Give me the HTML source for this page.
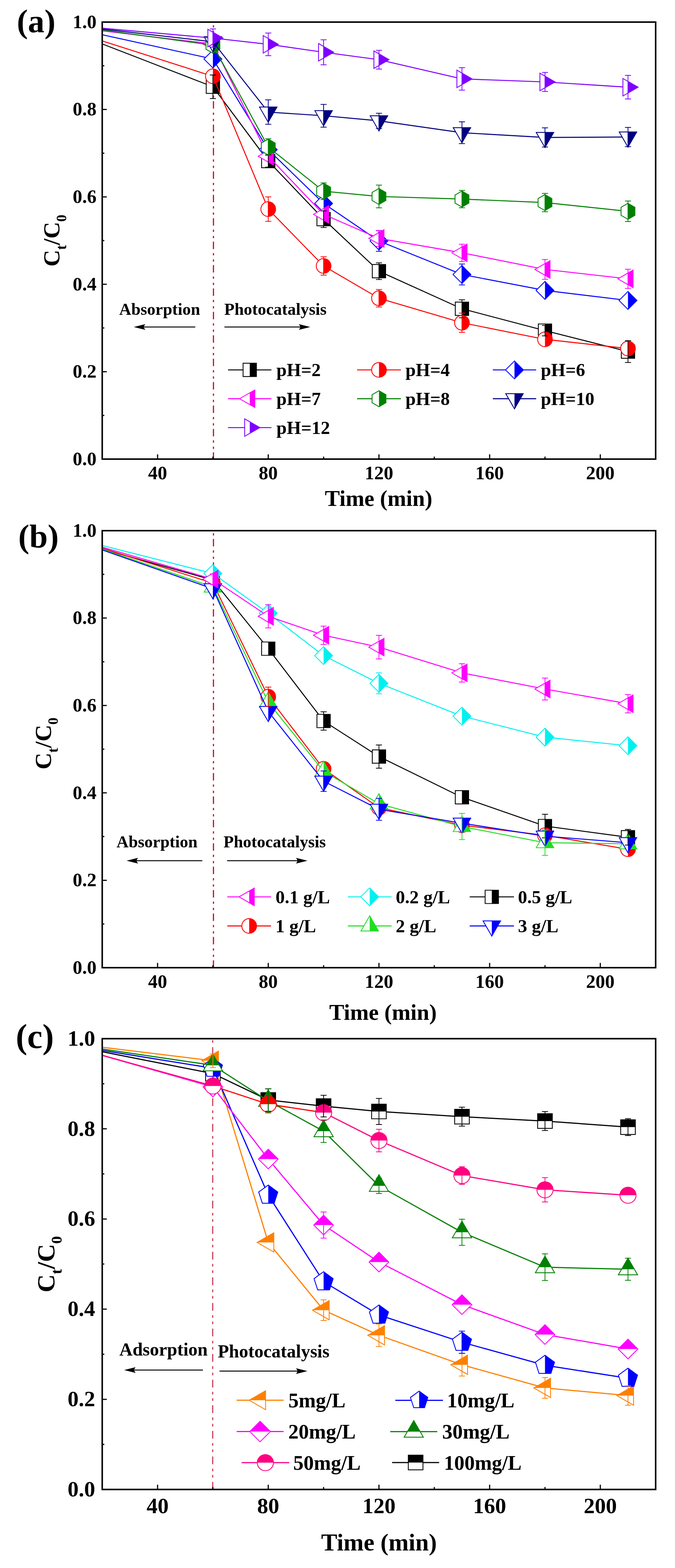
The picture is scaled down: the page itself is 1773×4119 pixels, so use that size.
<!DOCTYPE html><html><head><meta charset="utf-8"><title>Ct/C0 vs Time</title><style>html,body{margin:0;padding:0;background:#fff;}svg{display:block;}</style></head><body>
<svg width="1773" height="4119" viewBox="0 0 1773 4119" font-family="'Liberation Serif', 'Times New Roman', serif" font-weight="bold">
<rect width="1773" height="4119" fill="#fff"/>
<line x1="560.7" y1="58" x2="560.7" y2="1206" stroke="#d8001e" stroke-width="3" stroke-dasharray="19.5 10.5 6 10.5 6 9" stroke-dashoffset="38.3"/>
<polyline points="268.5,115.4 559.2,227.9 704.6,423.1 850,575.7 995.4,712.4 1213.4,811.1 1431.5,868.5 1649.5,923.6" fill="none" stroke="#000000" stroke-width="2.6" stroke-linejoin="round"/>
<polygon points="541.7,210.4 576.7,210.4 576.7,245.4 541.7,245.4" fill="#fff"/>
<polygon points="559.2,210.4 576.7,210.4 576.7,245.4 559.2,245.4" fill="#000000"/>
<polygon points="541.7,210.4 576.7,210.4 576.7,245.4 541.7,245.4" fill="none" stroke="#000000" stroke-width="2.2" stroke-linejoin="miter"/>
<polygon points="687.1,405.6 722.1,405.6 722.1,440.6 687.1,440.6" fill="#fff"/>
<polygon points="704.6,405.6 722.1,405.6 722.1,440.6 704.6,440.6" fill="#000000"/>
<polygon points="687.1,405.6 722.1,405.6 722.1,440.6 687.1,440.6" fill="none" stroke="#000000" stroke-width="2.2" stroke-linejoin="miter"/>
<polygon points="832.5,558.2 867.5,558.2 867.5,593.2 832.5,593.2" fill="#fff"/>
<polygon points="850,558.2 867.5,558.2 867.5,593.2 850,593.2" fill="#000000"/>
<polygon points="832.5,558.2 867.5,558.2 867.5,593.2 832.5,593.2" fill="none" stroke="#000000" stroke-width="2.2" stroke-linejoin="miter"/>
<polygon points="977.9,694.9 1012.9,694.9 1012.9,729.9 977.9,729.9" fill="#fff"/>
<polygon points="995.4,694.9 1012.9,694.9 1012.9,729.9 995.4,729.9" fill="#000000"/>
<polygon points="977.9,694.9 1012.9,694.9 1012.9,729.9 977.9,729.9" fill="none" stroke="#000000" stroke-width="2.2" stroke-linejoin="miter"/>
<polygon points="1195.9,793.6 1230.9,793.6 1230.9,828.6 1195.9,828.6" fill="#fff"/>
<polygon points="1213.4,793.6 1230.9,793.6 1230.9,828.6 1213.4,828.6" fill="#000000"/>
<polygon points="1195.9,793.6 1230.9,793.6 1230.9,828.6 1195.9,828.6" fill="none" stroke="#000000" stroke-width="2.2" stroke-linejoin="miter"/>
<polygon points="1414,851 1449,851 1449,886 1414,886" fill="#fff"/>
<polygon points="1431.5,851 1449,851 1449,886 1431.5,886" fill="#000000"/>
<polygon points="1414,851 1449,851 1449,886 1414,886" fill="none" stroke="#000000" stroke-width="2.2" stroke-linejoin="miter"/>
<polygon points="1632,906.1 1667,906.1 1667,941.1 1632,941.1" fill="#fff"/>
<polygon points="1649.5,906.1 1667,906.1 1667,941.1 1649.5,941.1" fill="#000000"/>
<polygon points="1632,906.1 1667,906.1 1667,941.1 1632,941.1" fill="none" stroke="#000000" stroke-width="2.2" stroke-linejoin="miter"/>
<polyline points="268.5,107.4 559.2,200.4 704.6,549.3 850,698.6 995.4,783.5 1213.4,847.8 1431.5,891.4 1649.5,915.6" fill="none" stroke="#ff0000" stroke-width="2.6" stroke-linejoin="round"/>
<circle cx="559.2" cy="200.4" r="19.3" fill="#fff"/>
<path d="M559.2,181.1 A19.3,19.3 0 0 1 559.2,219.7 Z" fill="#ff0000"/>
<circle cx="559.2" cy="200.4" r="19.3" fill="none" stroke="#ff0000" stroke-width="2.2"/>
<circle cx="704.6" cy="549.3" r="19.3" fill="#fff"/>
<path d="M704.6,530 A19.3,19.3 0 0 1 704.6,568.6 Z" fill="#ff0000"/>
<circle cx="704.6" cy="549.3" r="19.3" fill="none" stroke="#ff0000" stroke-width="2.2"/>
<circle cx="850" cy="698.6" r="19.3" fill="#fff"/>
<path d="M850,679.3 A19.3,19.3 0 0 1 850,717.9 Z" fill="#ff0000"/>
<circle cx="850" cy="698.6" r="19.3" fill="none" stroke="#ff0000" stroke-width="2.2"/>
<circle cx="995.4" cy="783.5" r="19.3" fill="#fff"/>
<path d="M995.4,764.2 A19.3,19.3 0 0 1 995.4,802.8 Z" fill="#ff0000"/>
<circle cx="995.4" cy="783.5" r="19.3" fill="none" stroke="#ff0000" stroke-width="2.2"/>
<circle cx="1213.4" cy="847.8" r="19.3" fill="#fff"/>
<path d="M1213.4,828.5 A19.3,19.3 0 0 1 1213.4,867.1 Z" fill="#ff0000"/>
<circle cx="1213.4" cy="847.8" r="19.3" fill="none" stroke="#ff0000" stroke-width="2.2"/>
<circle cx="1431.5" cy="891.4" r="19.3" fill="#fff"/>
<path d="M1431.5,872.1 A19.3,19.3 0 0 1 1431.5,910.7 Z" fill="#ff0000"/>
<circle cx="1431.5" cy="891.4" r="19.3" fill="none" stroke="#ff0000" stroke-width="2.2"/>
<circle cx="1649.5" cy="915.6" r="19.3" fill="#fff"/>
<path d="M1649.5,896.3 A19.3,19.3 0 0 1 1649.5,934.9 Z" fill="#ff0000"/>
<circle cx="1649.5" cy="915.6" r="19.3" fill="none" stroke="#ff0000" stroke-width="2.2"/>
<polyline points="268.5,91.3 559.2,155 704.6,393.2 850,534.4 995.4,633.1 1213.4,721 1431.5,762.9 1649.5,789.3" fill="none" stroke="#0000ff" stroke-width="2.6" stroke-linejoin="round"/>
<polygon points="559.2,131.5 582.7,155 559.2,178.5 535.7,155" fill="#fff"/>
<polygon points="559.2,131.5 559.2,131.5 582.7,155 559.2,178.5 559.2,178.5" fill="#0000ff"/>
<polygon points="559.2,131.5 582.7,155 559.2,178.5 535.7,155" fill="none" stroke="#0000ff" stroke-width="2.2" stroke-linejoin="miter"/>
<polygon points="704.6,369.7 728.1,393.2 704.6,416.7 681.1,393.2" fill="#fff"/>
<polygon points="704.6,369.7 704.6,369.7 728.1,393.2 704.6,416.7 704.6,416.7" fill="#0000ff"/>
<polygon points="704.6,369.7 728.1,393.2 704.6,416.7 681.1,393.2" fill="none" stroke="#0000ff" stroke-width="2.2" stroke-linejoin="miter"/>
<polygon points="850,510.9 873.5,534.4 850,557.9 826.5,534.4" fill="#fff"/>
<polygon points="850,510.9 850,510.9 873.5,534.4 850,557.9 850,557.9" fill="#0000ff"/>
<polygon points="850,510.9 873.5,534.4 850,557.9 826.5,534.4" fill="none" stroke="#0000ff" stroke-width="2.2" stroke-linejoin="miter"/>
<polygon points="995.4,609.6 1018.9,633.1 995.4,656.6 971.9,633.1" fill="#fff"/>
<polygon points="995.4,609.6 995.4,609.6 1018.9,633.1 995.4,656.6 995.4,656.6" fill="#0000ff"/>
<polygon points="995.4,609.6 1018.9,633.1 995.4,656.6 971.9,633.1" fill="none" stroke="#0000ff" stroke-width="2.2" stroke-linejoin="miter"/>
<polygon points="1213.4,697.5 1236.9,721 1213.4,744.5 1189.9,721" fill="#fff"/>
<polygon points="1213.4,697.5 1213.4,697.5 1236.9,721 1213.4,744.5 1213.4,744.5" fill="#0000ff"/>
<polygon points="1213.4,697.5 1236.9,721 1213.4,744.5 1189.9,721" fill="none" stroke="#0000ff" stroke-width="2.2" stroke-linejoin="miter"/>
<polygon points="1431.5,739.4 1455,762.9 1431.5,786.4 1408,762.9" fill="#fff"/>
<polygon points="1431.5,739.4 1431.5,739.4 1455,762.9 1431.5,786.4 1431.5,786.4" fill="#0000ff"/>
<polygon points="1431.5,739.4 1455,762.9 1431.5,786.4 1408,762.9" fill="none" stroke="#0000ff" stroke-width="2.2" stroke-linejoin="miter"/>
<polygon points="1649.5,765.8 1673,789.3 1649.5,812.8 1626,789.3" fill="#fff"/>
<polygon points="1649.5,765.8 1649.5,765.8 1673,789.3 1649.5,812.8 1649.5,812.8" fill="#0000ff"/>
<polygon points="1649.5,765.8 1673,789.3 1649.5,812.8 1626,789.3" fill="none" stroke="#0000ff" stroke-width="2.2" stroke-linejoin="miter"/>
<polyline points="268.5,81 559.2,115.4 704.6,410.4 850,563.1 995.4,626.3 1213.4,664.1 1431.5,707.8 1649.5,732.5" fill="none" stroke="#ff00ff" stroke-width="2.6" stroke-linejoin="round"/>
<polygon points="532.7,115.4 572.5,92.4 572.5,138.4" fill="#fff"/>
<polygon points="559.2,130.7 559.2,100.1 572.5,92.4 572.5,138.4" fill="#ff00ff"/>
<polygon points="532.7,115.4 572.5,92.4 572.5,138.4" fill="none" stroke="#ff00ff" stroke-width="2.2" stroke-linejoin="miter"/>
<polygon points="678.1,410.4 717.9,387.4 717.9,433.4" fill="#fff"/>
<polygon points="704.6,425.8 704.6,395.1 717.9,387.4 717.9,433.4" fill="#ff00ff"/>
<polygon points="678.1,410.4 717.9,387.4 717.9,433.4" fill="none" stroke="#ff00ff" stroke-width="2.2" stroke-linejoin="miter"/>
<polygon points="823.4,563.1 863.3,540.1 863.3,586.1" fill="#fff"/>
<polygon points="850,578.5 850,547.8 863.3,540.1 863.3,586.1" fill="#ff00ff"/>
<polygon points="823.4,563.1 863.3,540.1 863.3,586.1" fill="none" stroke="#ff00ff" stroke-width="2.2" stroke-linejoin="miter"/>
<polygon points="968.8,626.3 1008.6,603.3 1008.6,649.3" fill="#fff"/>
<polygon points="995.4,641.6 995.4,610.9 1008.6,603.3 1008.6,649.3" fill="#ff00ff"/>
<polygon points="968.8,626.3 1008.6,603.3 1008.6,649.3" fill="none" stroke="#ff00ff" stroke-width="2.2" stroke-linejoin="miter"/>
<polygon points="1186.8,664.1 1226.7,641.1 1226.7,687.1" fill="#fff"/>
<polygon points="1213.4,679.5 1213.4,648.8 1226.7,641.1 1226.7,687.1" fill="#ff00ff"/>
<polygon points="1186.8,664.1 1226.7,641.1 1226.7,687.1" fill="none" stroke="#ff00ff" stroke-width="2.2" stroke-linejoin="miter"/>
<polygon points="1404.9,707.8 1444.7,684.8 1444.7,730.8" fill="#fff"/>
<polygon points="1431.5,723.1 1431.5,692.4 1444.7,684.8 1444.7,730.8" fill="#ff00ff"/>
<polygon points="1404.9,707.8 1444.7,684.8 1444.7,730.8" fill="none" stroke="#ff00ff" stroke-width="2.2" stroke-linejoin="miter"/>
<polygon points="1623,732.5 1662.8,709.5 1662.8,755.5" fill="#fff"/>
<polygon points="1649.5,747.8 1649.5,717.1 1662.8,709.5 1662.8,755.5" fill="#ff00ff"/>
<polygon points="1623,732.5 1662.8,709.5 1662.8,755.5" fill="none" stroke="#ff00ff" stroke-width="2.2" stroke-linejoin="miter"/>
<polyline points="268.5,78.7 559.2,118.8 704.6,386.3 850,502.3 995.4,516.1 1213.4,522.9 1431.5,532.1 1649.5,555.1" fill="none" stroke="#008000" stroke-width="2.6" stroke-linejoin="round"/>
<polygon points="559.2,97.8 577.4,108.3 577.4,129.3 559.2,139.8 541.1,129.3 541.1,108.3" fill="#fff"/>
<polygon points="559.2,97.8 559.2,97.8 577.4,108.3 577.4,129.3 559.2,139.8 559.2,139.8" fill="#008000"/>
<polygon points="559.2,97.8 577.4,108.3 577.4,129.3 559.2,139.8 541.1,129.3 541.1,108.3" fill="none" stroke="#008000" stroke-width="2.2" stroke-linejoin="miter"/>
<polygon points="704.6,365.3 722.8,375.8 722.8,396.8 704.6,407.3 686.4,396.8 686.4,375.8" fill="#fff"/>
<polygon points="704.6,365.3 704.6,365.3 722.8,375.8 722.8,396.8 704.6,407.3 704.6,407.3" fill="#008000"/>
<polygon points="704.6,365.3 722.8,375.8 722.8,396.8 704.6,407.3 686.4,396.8 686.4,375.8" fill="none" stroke="#008000" stroke-width="2.2" stroke-linejoin="miter"/>
<polygon points="850,481.3 868.2,491.8 868.2,512.8 850,523.3 831.8,512.8 831.8,491.8" fill="#fff"/>
<polygon points="850,481.3 850,481.3 868.2,491.8 868.2,512.8 850,523.3 850,523.3" fill="#008000"/>
<polygon points="850,481.3 868.2,491.8 868.2,512.8 850,523.3 831.8,512.8 831.8,491.8" fill="none" stroke="#008000" stroke-width="2.2" stroke-linejoin="miter"/>
<polygon points="995.4,495.1 1013.5,505.6 1013.5,526.6 995.4,537.1 977.2,526.6 977.2,505.6" fill="#fff"/>
<polygon points="995.4,495.1 995.4,495.1 1013.5,505.6 1013.5,526.6 995.4,537.1 995.4,537.1" fill="#008000"/>
<polygon points="995.4,495.1 1013.5,505.6 1013.5,526.6 995.4,537.1 977.2,526.6 977.2,505.6" fill="none" stroke="#008000" stroke-width="2.2" stroke-linejoin="miter"/>
<polygon points="1213.4,501.9 1231.6,512.4 1231.6,533.4 1213.4,543.9 1195.2,533.4 1195.2,512.4" fill="#fff"/>
<polygon points="1213.4,501.9 1213.4,501.9 1231.6,512.4 1231.6,533.4 1213.4,543.9 1213.4,543.9" fill="#008000"/>
<polygon points="1213.4,501.9 1231.6,512.4 1231.6,533.4 1213.4,543.9 1195.2,533.4 1195.2,512.4" fill="none" stroke="#008000" stroke-width="2.2" stroke-linejoin="miter"/>
<polygon points="1431.5,511.1 1449.6,521.6 1449.6,542.6 1431.5,553.1 1413.3,542.6 1413.3,521.6" fill="#fff"/>
<polygon points="1431.5,511.1 1431.5,511.1 1449.6,521.6 1449.6,542.6 1431.5,553.1 1431.5,553.1" fill="#008000"/>
<polygon points="1431.5,511.1 1449.6,521.6 1449.6,542.6 1431.5,553.1 1413.3,542.6 1413.3,521.6" fill="none" stroke="#008000" stroke-width="2.2" stroke-linejoin="miter"/>
<polygon points="1649.5,534.1 1667.7,544.6 1667.7,565.6 1649.5,576.1 1631.3,565.6 1631.3,544.6" fill="#fff"/>
<polygon points="1649.5,534.1 1649.5,534.1 1667.7,544.6 1667.7,565.6 1649.5,576.1 1649.5,576.1" fill="#008000"/>
<polygon points="1649.5,534.1 1667.7,544.6 1667.7,565.6 1649.5,576.1 1631.3,565.6 1631.3,544.6" fill="none" stroke="#008000" stroke-width="2.2" stroke-linejoin="miter"/>
<polyline points="268.5,76.4 559.2,109.7 704.6,294.5 850,304 995.4,317.4 1213.4,348.6 1431.5,361.1 1649.5,359.9" fill="none" stroke="#000080" stroke-width="2.6" stroke-linejoin="round"/>
<polygon points="536.2,96.4 582.2,96.4 559.2,136.2" fill="#fff"/>
<polygon points="559.2,136.2 559.2,96.4 582.2,96.4 559.2,136.2" fill="#000080"/>
<polygon points="536.2,96.4 582.2,96.4 559.2,136.2" fill="none" stroke="#000080" stroke-width="2.2" stroke-linejoin="miter"/>
<polygon points="681.6,281.2 727.6,281.2 704.6,321" fill="#fff"/>
<polygon points="704.6,321 704.6,281.2 727.6,281.2 704.6,321" fill="#000080"/>
<polygon points="681.6,281.2 727.6,281.2 704.6,321" fill="none" stroke="#000080" stroke-width="2.2" stroke-linejoin="miter"/>
<polygon points="827,290.7 873,290.7 850,330.6" fill="#fff"/>
<polygon points="850,330.6 850,290.7 873,290.7 850,330.6" fill="#000080"/>
<polygon points="827,290.7 873,290.7 850,330.6" fill="none" stroke="#000080" stroke-width="2.2" stroke-linejoin="miter"/>
<polygon points="972.4,304.2 1018.4,304.2 995.4,344" fill="#fff"/>
<polygon points="995.4,344 995.4,304.2 1018.4,304.2 995.4,344" fill="#000080"/>
<polygon points="972.4,304.2 1018.4,304.2 995.4,344" fill="none" stroke="#000080" stroke-width="2.2" stroke-linejoin="miter"/>
<polygon points="1190.4,335.3 1236.4,335.3 1213.4,375.1" fill="#fff"/>
<polygon points="1213.4,375.1 1213.4,335.3 1236.4,335.3 1213.4,375.1" fill="#000080"/>
<polygon points="1190.4,335.3 1236.4,335.3 1213.4,375.1" fill="none" stroke="#000080" stroke-width="2.2" stroke-linejoin="miter"/>
<polygon points="1408.5,347.8 1454.5,347.8 1431.5,387.6" fill="#fff"/>
<polygon points="1431.5,387.6 1431.5,347.8 1454.5,347.8 1431.5,387.6" fill="#000080"/>
<polygon points="1408.5,347.8 1454.5,347.8 1431.5,387.6" fill="none" stroke="#000080" stroke-width="2.2" stroke-linejoin="miter"/>
<polygon points="1626.5,346.6 1672.5,346.6 1649.5,386.5" fill="#fff"/>
<polygon points="1649.5,386.5 1649.5,346.6 1672.5,346.6 1649.5,386.5" fill="#000080"/>
<polygon points="1626.5,346.6 1672.5,346.6 1649.5,386.5" fill="none" stroke="#000080" stroke-width="2.2" stroke-linejoin="miter"/>
<polyline points="268.5,74.1 559.2,100 704.6,116.4 850,137.3 995.4,156.8 1213.4,207.2 1431.5,215.3 1649.5,229.1" fill="none" stroke="#8000ff" stroke-width="2.6" stroke-linejoin="round"/>
<polygon points="546,77 585.8,100 546,123" fill="#fff"/>
<polygon points="559.2,84.7 585.8,100 559.2,115.4" fill="#8000ff"/>
<polygon points="546,77 585.8,100 546,123" fill="none" stroke="#8000ff" stroke-width="2.2" stroke-linejoin="miter"/>
<polygon points="691.3,93.4 731.2,116.4 691.3,139.4" fill="#fff"/>
<polygon points="704.6,101.1 731.2,116.4 704.6,131.8" fill="#8000ff"/>
<polygon points="691.3,93.4 731.2,116.4 691.3,139.4" fill="none" stroke="#8000ff" stroke-width="2.2" stroke-linejoin="miter"/>
<polygon points="836.7,114.3 876.5,137.3 836.7,160.3" fill="#fff"/>
<polygon points="850,122 876.5,137.3 850,152.7" fill="#8000ff"/>
<polygon points="836.7,114.3 876.5,137.3 836.7,160.3" fill="none" stroke="#8000ff" stroke-width="2.2" stroke-linejoin="miter"/>
<polygon points="982.1,133.8 1021.9,156.8 982.1,179.8" fill="#fff"/>
<polygon points="995.4,141.5 1021.9,156.8 995.4,172.2" fill="#8000ff"/>
<polygon points="982.1,133.8 1021.9,156.8 982.1,179.8" fill="none" stroke="#8000ff" stroke-width="2.2" stroke-linejoin="miter"/>
<polygon points="1200.1,184.2 1240,207.2 1200.1,230.2" fill="#fff"/>
<polygon points="1213.4,191.9 1240,207.2 1213.4,222.6" fill="#8000ff"/>
<polygon points="1200.1,184.2 1240,207.2 1200.1,230.2" fill="none" stroke="#8000ff" stroke-width="2.2" stroke-linejoin="miter"/>
<polygon points="1418.2,192.3 1458,215.3 1418.2,238.3" fill="#fff"/>
<polygon points="1431.5,199.9 1458,215.3 1431.5,230.6" fill="#8000ff"/>
<polygon points="1418.2,192.3 1458,215.3 1418.2,238.3" fill="none" stroke="#8000ff" stroke-width="2.2" stroke-linejoin="miter"/>
<polygon points="1636.2,206.1 1676.1,229.1 1636.2,252.1" fill="#fff"/>
<polygon points="1649.5,213.7 1676.1,229.1 1649.5,244.4" fill="#8000ff"/>
<polygon points="1636.2,206.1 1676.1,229.1 1636.2,252.1" fill="none" stroke="#8000ff" stroke-width="2.2" stroke-linejoin="miter"/>
<path d="M559.2,196.9V258.9M551.2,196.9h16M551.2,258.9h16" stroke="#000000" stroke-width="2.0" fill="none"/>
<path d="M704.6,407V439.1M696.6,407h16M696.6,439.1h16" stroke="#000000" stroke-width="2.0" fill="none"/>
<path d="M850,553.9V597.6M842,553.9h16M842,597.6h16" stroke="#000000" stroke-width="2.0" fill="none"/>
<path d="M995.4,690.5V734.2M987.4,690.5h16M987.4,734.2h16" stroke="#000000" stroke-width="2.0" fill="none"/>
<path d="M1213.4,787.4V834.7M1205.4,787.4h16M1205.4,834.7h16" stroke="#000000" stroke-width="2.0" fill="none"/>
<path d="M1431.5,854.7V882.3M1423.5,854.7h16M1423.5,882.3h16" stroke="#000000" stroke-width="2.0" fill="none"/>
<path d="M1649.5,894.9V952.3M1641.5,894.9h16M1641.5,952.3h16" stroke="#000000" stroke-width="2.0" fill="none"/>
<path d="M704.6,517.2V581.5M696.6,517.2h16M696.6,581.5h16" stroke="#ff0000" stroke-width="2.0" fill="none"/>
<path d="M850,674.5V722.7M842,674.5h16M842,722.7h16" stroke="#ff0000" stroke-width="2.0" fill="none"/>
<path d="M995.4,760.6V806.5M987.4,760.6h16M987.4,806.5h16" stroke="#ff0000" stroke-width="2.0" fill="none"/>
<path d="M1213.4,822.6V873.1M1205.4,822.6h16M1205.4,873.1h16" stroke="#ff0000" stroke-width="2.0" fill="none"/>
<path d="M995.4,606.1V660.2M987.4,606.1h16M987.4,660.2h16" stroke="#0000ff" stroke-width="2.0" fill="none"/>
<path d="M1213.4,693.4V748.5M1205.4,693.4h16M1205.4,748.5h16" stroke="#0000ff" stroke-width="2.0" fill="none"/>
<path d="M995.4,605.6V646.9M987.4,605.6h16M987.4,646.9h16" stroke="#ff00ff" stroke-width="2.0" fill="none"/>
<path d="M1213.4,641.4V686.9M1205.4,641.4h16M1205.4,686.9h16" stroke="#ff00ff" stroke-width="2.0" fill="none"/>
<path d="M1431.5,681.7V733.8M1423.5,681.7h16M1423.5,733.8h16" stroke="#ff00ff" stroke-width="2.0" fill="none"/>
<path d="M1649.5,707.2V757.7M1641.5,707.2h16M1641.5,757.7h16" stroke="#ff00ff" stroke-width="2.0" fill="none"/>
<path d="M704.6,364.5V408.1M696.6,364.5h16M696.6,408.1h16" stroke="#008000" stroke-width="2.0" fill="none"/>
<path d="M850,480.5V524.1M842,480.5h16M842,524.1h16" stroke="#008000" stroke-width="2.0" fill="none"/>
<path d="M995.4,486.2V545.9M987.4,486.2h16M987.4,545.9h16" stroke="#008000" stroke-width="2.0" fill="none"/>
<path d="M1213.4,500.2V545.7M1205.4,500.2h16M1205.4,545.7h16" stroke="#008000" stroke-width="2.0" fill="none"/>
<path d="M1431.5,508V556.2M1423.5,508h16M1423.5,556.2h16" stroke="#008000" stroke-width="2.0" fill="none"/>
<path d="M1649.5,528.1V582.1M1641.5,528.1h16M1641.5,582.1h16" stroke="#008000" stroke-width="2.0" fill="none"/>
<path d="M704.6,262.3V326.6M696.6,262.3h16M696.6,326.6h16" stroke="#000080" stroke-width="2.0" fill="none"/>
<path d="M850,274.2V333.9M842,274.2h16M842,333.9h16" stroke="#000080" stroke-width="2.0" fill="none"/>
<path d="M995.4,297.5V337.4M987.4,297.5h16M987.4,337.4h16" stroke="#000080" stroke-width="2.0" fill="none"/>
<path d="M1213.4,319.9V377.3M1205.4,319.9h16M1205.4,377.3h16" stroke="#000080" stroke-width="2.0" fill="none"/>
<path d="M1431.5,335.8V386.3M1423.5,335.8h16M1423.5,386.3h16" stroke="#000080" stroke-width="2.0" fill="none"/>
<path d="M1649.5,334.7V385.2M1641.5,334.7h16M1641.5,385.2h16" stroke="#000080" stroke-width="2.0" fill="none"/>
<path d="M559.2,75.9V124.1M551.2,75.9h16M551.2,124.1h16" stroke="#8000ff" stroke-width="2.0" fill="none"/>
<path d="M704.6,86.7V146.2M696.6,86.7h16M696.6,146.2h16" stroke="#8000ff" stroke-width="2.0" fill="none"/>
<path d="M850,104.5V170.2M842,104.5h16M842,170.2h16" stroke="#8000ff" stroke-width="2.0" fill="none"/>
<path d="M995.4,132.3V181.4M987.4,132.3h16M987.4,181.4h16" stroke="#8000ff" stroke-width="2.0" fill="none"/>
<path d="M1213.4,177.7V236.7M1205.4,177.7h16M1205.4,236.7h16" stroke="#8000ff" stroke-width="2.0" fill="none"/>
<path d="M1431.5,190.2V240.3M1423.5,190.2h16M1423.5,240.3h16" stroke="#8000ff" stroke-width="2.0" fill="none"/>
<path d="M1649.5,198.1V260M1641.5,198.1h16M1641.5,260h16" stroke="#8000ff" stroke-width="2.0" fill="none"/>
<rect x="268.5" y="58" width="1453.7" height="1148" fill="none" stroke="#000" stroke-width="4"/>
<path d="M413.9,1206v-12.5M704.6,1206v-12.5M995.4,1206v-12.5M1286.1,1206v-12.5M1576.8,1206v-12.5M559.2,1206v-6.5M850,1206v-6.5M1140.7,1206v-6.5M1431.5,1206v-6.5M1722.2,1206v-6.5M268.5,1206h12M268.5,1091.2h5.5M268.5,976.4h12M268.5,861.6h5.5M268.5,746.8h12M268.5,632h5.5M268.5,517.2h12M268.5,402.4h5.5M268.5,287.6h12M268.5,172.8h5.5M268.5,58h12" stroke="#000" stroke-width="3" fill="none"/>
<text x="253.5" y="1221.8" font-size="50" text-anchor="end">0.0</text>
<text x="253.5" y="992.1" font-size="50" text-anchor="end">0.2</text>
<text x="253.5" y="762.5" font-size="50" text-anchor="end">0.4</text>
<text x="253.5" y="532.9" font-size="50" text-anchor="end">0.6</text>
<text x="253.5" y="303.3" font-size="50" text-anchor="end">0.8</text>
<text x="253.5" y="73.8" font-size="50" text-anchor="end">1.0</text>
<text x="413.9" y="1258.5" font-size="50" text-anchor="middle">40</text>
<text x="704.6" y="1258.5" font-size="50" text-anchor="middle">80</text>
<text x="995.4" y="1258.5" font-size="50" text-anchor="middle">120</text>
<text x="1286.1" y="1258.5" font-size="50" text-anchor="middle">160</text>
<text x="1576.8" y="1258.5" font-size="50" text-anchor="middle">200</text>
<text x="994.5" y="1329" font-size="59" text-anchor="middle">Time (min)</text>
<text x="156" y="632" font-size="61" text-anchor="middle" transform="rotate(-90 156 632)">C<tspan font-size="37.8" dy="18.3">t</tspan><tspan dy="-18.3">/C</tspan><tspan font-size="37.8" dy="18.3">0</tspan></text>
<text x="44.2" y="85" font-size="87" text-anchor="start">(a)</text>
<text x="313" y="826.5" font-size="44" text-anchor="start">Absorption</text>
<text x="589" y="826.5" font-size="44" text-anchor="start">Photocatalysis</text>
<line x1="513" y1="859" x2="369.5" y2="859" stroke="#000" stroke-width="2.5"/>
<polygon points="351.5,859 381.5,851.5 377,859 381.5,866.5" fill="#000"/>
<line x1="589.5" y1="859" x2="797" y2="859" stroke="#000" stroke-width="2.5"/>
<polygon points="815,859 785,851.5 789.5,859 785,866.5" fill="#000"/>
<line x1="599" y1="971.7" x2="713" y2="971.7" stroke="#000000" stroke-width="2.6"/>
<polygon points="638.5,954.2 673.5,954.2 673.5,989.2 638.5,989.2" fill="#fff"/>
<polygon points="656,954.2 673.5,954.2 673.5,989.2 656,989.2" fill="#000000"/>
<polygon points="638.5,954.2 673.5,954.2 673.5,989.2 638.5,989.2" fill="none" stroke="#000000" stroke-width="2.2" stroke-linejoin="miter"/>
<text x="726" y="988.4" font-size="48.5" text-anchor="start">pH=2</text>
<line x1="938" y1="971.7" x2="1053" y2="971.7" stroke="#ff0000" stroke-width="2.6"/>
<circle cx="995.5" cy="971.7" r="19.3" fill="#fff"/>
<path d="M995.5,952.4 A19.3,19.3 0 0 1 995.5,991 Z" fill="#ff0000"/>
<circle cx="995.5" cy="971.7" r="19.3" fill="none" stroke="#ff0000" stroke-width="2.2"/>
<text x="1065" y="988.4" font-size="48.5" text-anchor="start">pH=4</text>
<line x1="1294.6" y1="971.7" x2="1408.3" y2="971.7" stroke="#0000ff" stroke-width="2.6"/>
<polygon points="1351.4,948.2 1374.9,971.7 1351.4,995.2 1327.9,971.7" fill="#fff"/>
<polygon points="1351.4,948.2 1351.4,948.2 1374.9,971.7 1351.4,995.2 1351.4,995.2" fill="#0000ff"/>
<polygon points="1351.4,948.2 1374.9,971.7 1351.4,995.2 1327.9,971.7" fill="none" stroke="#0000ff" stroke-width="2.2" stroke-linejoin="miter"/>
<text x="1420.5" y="988.4" font-size="48.5" text-anchor="start">pH=6</text>
<line x1="599" y1="1047.4" x2="713" y2="1047.4" stroke="#ff00ff" stroke-width="2.6"/>
<polygon points="629.4,1047.4 669.3,1024.4 669.3,1070.4" fill="#fff"/>
<polygon points="656,1062.7 656,1032.1 669.3,1024.4 669.3,1070.4" fill="#ff00ff"/>
<polygon points="629.4,1047.4 669.3,1024.4 669.3,1070.4" fill="none" stroke="#ff00ff" stroke-width="2.2" stroke-linejoin="miter"/>
<text x="726" y="1064.1" font-size="48.5" text-anchor="start">pH=7</text>
<line x1="938" y1="1047.4" x2="1053" y2="1047.4" stroke="#008000" stroke-width="2.6"/>
<polygon points="995.5,1026.4 1013.7,1036.9 1013.7,1057.9 995.5,1068.4 977.3,1057.9 977.3,1036.9" fill="#fff"/>
<polygon points="995.5,1026.4 995.5,1026.4 1013.7,1036.9 1013.7,1057.9 995.5,1068.4 995.5,1068.4" fill="#008000"/>
<polygon points="995.5,1026.4 1013.7,1036.9 1013.7,1057.9 995.5,1068.4 977.3,1057.9 977.3,1036.9" fill="none" stroke="#008000" stroke-width="2.2" stroke-linejoin="miter"/>
<text x="1065" y="1064.1" font-size="48.5" text-anchor="start">pH=8</text>
<line x1="1294.6" y1="1047.4" x2="1408.3" y2="1047.4" stroke="#000080" stroke-width="2.6"/>
<polygon points="1328.4,1034.1 1374.4,1034.1 1351.4,1074" fill="#fff"/>
<polygon points="1351.4,1074 1351.4,1034.1 1374.4,1034.1 1351.4,1074" fill="#000080"/>
<polygon points="1328.4,1034.1 1374.4,1034.1 1351.4,1074" fill="none" stroke="#000080" stroke-width="2.2" stroke-linejoin="miter"/>
<text x="1420.5" y="1064.1" font-size="48.5" text-anchor="start">pH=10</text>
<line x1="599" y1="1123.2" x2="713" y2="1123.2" stroke="#8000ff" stroke-width="2.6"/>
<polygon points="642.7,1100.2 682.6,1123.2 642.7,1146.2" fill="#fff"/>
<polygon points="656,1107.9 682.6,1123.2 656,1138.5" fill="#8000ff"/>
<polygon points="642.7,1100.2 682.6,1123.2 642.7,1146.2" fill="none" stroke="#8000ff" stroke-width="2.2" stroke-linejoin="miter"/>
<text x="726" y="1139.9" font-size="48.5" text-anchor="start">pH=12</text>
<line x1="560.7" y1="1394" x2="560.7" y2="2542" stroke="#d8001e" stroke-width="3" stroke-dasharray="19.5 10.5 6 10.5 6 9" stroke-dashoffset="39.8"/>
<polyline points="268.5,1442.2 559.2,1523.7 704.6,1704 850,1894 995.4,1987.4 1213.4,2094.3 1431.5,2170 1649.5,2199.4" fill="none" stroke="#000000" stroke-width="2.6" stroke-linejoin="round"/>
<polygon points="541.7,1506.2 576.7,1506.2 576.7,1541.2 541.7,1541.2" fill="#fff"/>
<polygon points="559.2,1506.2 576.7,1506.2 576.7,1541.2 559.2,1541.2" fill="#000000"/>
<polygon points="541.7,1506.2 576.7,1506.2 576.7,1541.2 541.7,1541.2" fill="none" stroke="#000000" stroke-width="2.2" stroke-linejoin="miter"/>
<polygon points="687.1,1686.5 722.1,1686.5 722.1,1721.5 687.1,1721.5" fill="#fff"/>
<polygon points="704.6,1686.5 722.1,1686.5 722.1,1721.5 704.6,1721.5" fill="#000000"/>
<polygon points="687.1,1686.5 722.1,1686.5 722.1,1721.5 687.1,1721.5" fill="none" stroke="#000000" stroke-width="2.2" stroke-linejoin="miter"/>
<polygon points="832.5,1876.5 867.5,1876.5 867.5,1911.5 832.5,1911.5" fill="#fff"/>
<polygon points="850,1876.5 867.5,1876.5 867.5,1911.5 850,1911.5" fill="#000000"/>
<polygon points="832.5,1876.5 867.5,1876.5 867.5,1911.5 832.5,1911.5" fill="none" stroke="#000000" stroke-width="2.2" stroke-linejoin="miter"/>
<polygon points="977.9,1969.9 1012.9,1969.9 1012.9,2004.9 977.9,2004.9" fill="#fff"/>
<polygon points="995.4,1969.9 1012.9,1969.9 1012.9,2004.9 995.4,2004.9" fill="#000000"/>
<polygon points="977.9,1969.9 1012.9,1969.9 1012.9,2004.9 977.9,2004.9" fill="none" stroke="#000000" stroke-width="2.2" stroke-linejoin="miter"/>
<polygon points="1195.9,2076.8 1230.9,2076.8 1230.9,2111.8 1195.9,2111.8" fill="#fff"/>
<polygon points="1213.4,2076.8 1230.9,2076.8 1230.9,2111.8 1213.4,2111.8" fill="#000000"/>
<polygon points="1195.9,2076.8 1230.9,2076.8 1230.9,2111.8 1195.9,2111.8" fill="none" stroke="#000000" stroke-width="2.2" stroke-linejoin="miter"/>
<polygon points="1414,2152.5 1449,2152.5 1449,2187.5 1414,2187.5" fill="#fff"/>
<polygon points="1431.5,2152.5 1449,2152.5 1449,2187.5 1431.5,2187.5" fill="#000000"/>
<polygon points="1414,2152.5 1449,2152.5 1449,2187.5 1414,2187.5" fill="none" stroke="#000000" stroke-width="2.2" stroke-linejoin="miter"/>
<polygon points="1632,2181.9 1667,2181.9 1667,2216.9 1632,2216.9" fill="#fff"/>
<polygon points="1649.5,2181.9 1667,2181.9 1667,2216.9 1649.5,2216.9" fill="#000000"/>
<polygon points="1632,2181.9 1667,2181.9 1667,2216.9 1632,2216.9" fill="none" stroke="#000000" stroke-width="2.2" stroke-linejoin="miter"/>
<polyline points="268.5,1439.9 559.2,1531.8 704.6,1830.2 850,2019.7 995.4,2121.8 1213.4,2167.8 1431.5,2194.2 1649.5,2230.9" fill="none" stroke="#ff0000" stroke-width="2.6" stroke-linejoin="round"/>
<circle cx="559.2" cy="1531.8" r="19.3" fill="#fff"/>
<path d="M559.2,1512.5 A19.3,19.3 0 0 1 559.2,1551.1 Z" fill="#ff0000"/>
<circle cx="559.2" cy="1531.8" r="19.3" fill="none" stroke="#ff0000" stroke-width="2.2"/>
<circle cx="704.6" cy="1830.2" r="19.3" fill="#fff"/>
<path d="M704.6,1810.9 A19.3,19.3 0 0 1 704.6,1849.5 Z" fill="#ff0000"/>
<circle cx="704.6" cy="1830.2" r="19.3" fill="none" stroke="#ff0000" stroke-width="2.2"/>
<circle cx="850" cy="2019.7" r="19.3" fill="#fff"/>
<path d="M850,2000.4 A19.3,19.3 0 0 1 850,2039 Z" fill="#ff0000"/>
<circle cx="850" cy="2019.7" r="19.3" fill="none" stroke="#ff0000" stroke-width="2.2"/>
<circle cx="995.4" cy="2121.8" r="19.3" fill="#fff"/>
<path d="M995.4,2102.5 A19.3,19.3 0 0 1 995.4,2141.1 Z" fill="#ff0000"/>
<circle cx="995.4" cy="2121.8" r="19.3" fill="none" stroke="#ff0000" stroke-width="2.2"/>
<circle cx="1213.4" cy="2167.8" r="19.3" fill="#fff"/>
<path d="M1213.4,2148.5 A19.3,19.3 0 0 1 1213.4,2187.1 Z" fill="#ff0000"/>
<circle cx="1213.4" cy="2167.8" r="19.3" fill="none" stroke="#ff0000" stroke-width="2.2"/>
<circle cx="1431.5" cy="2194.2" r="19.3" fill="#fff"/>
<path d="M1431.5,2174.9 A19.3,19.3 0 0 1 1431.5,2213.5 Z" fill="#ff0000"/>
<circle cx="1431.5" cy="2194.2" r="19.3" fill="none" stroke="#ff0000" stroke-width="2.2"/>
<circle cx="1649.5" cy="2230.9" r="19.3" fill="#fff"/>
<path d="M1649.5,2211.6 A19.3,19.3 0 0 1 1649.5,2250.2 Z" fill="#ff0000"/>
<circle cx="1649.5" cy="2230.9" r="19.3" fill="none" stroke="#ff0000" stroke-width="2.2"/>
<polyline points="268.5,1442.2 559.2,1542.1 704.6,1844.6 850,2026.3 995.4,2111.4 1213.4,2171.2 1431.5,2213.7 1649.5,2216.5" fill="none" stroke="#22dd22" stroke-width="2.6" stroke-linejoin="round"/>
<polygon points="559.2,1515.5 582.2,1555.4 536.2,1555.4" fill="#fff"/>
<polygon points="559.2,1515.5 559.2,1515.5 582.2,1555.4 559.2,1555.4" fill="#22dd22"/>
<polygon points="559.2,1515.5 582.2,1555.4 536.2,1555.4" fill="none" stroke="#22dd22" stroke-width="2.2" stroke-linejoin="miter"/>
<polygon points="704.6,1818 727.6,1857.9 681.6,1857.9" fill="#fff"/>
<polygon points="704.6,1818 704.6,1818 727.6,1857.9 704.6,1857.9" fill="#22dd22"/>
<polygon points="704.6,1818 727.6,1857.9 681.6,1857.9" fill="none" stroke="#22dd22" stroke-width="2.2" stroke-linejoin="miter"/>
<polygon points="850,1999.8 873,2039.6 827,2039.6" fill="#fff"/>
<polygon points="850,1999.8 850,1999.8 873,2039.6 850,2039.6" fill="#22dd22"/>
<polygon points="850,1999.8 873,2039.6 827,2039.6" fill="none" stroke="#22dd22" stroke-width="2.2" stroke-linejoin="miter"/>
<polygon points="995.4,2084.8 1018.4,2124.7 972.4,2124.7" fill="#fff"/>
<polygon points="995.4,2084.8 995.4,2084.8 1018.4,2124.7 995.4,2124.7" fill="#22dd22"/>
<polygon points="995.4,2084.8 1018.4,2124.7 972.4,2124.7" fill="none" stroke="#22dd22" stroke-width="2.2" stroke-linejoin="miter"/>
<polygon points="1213.4,2144.6 1236.4,2184.5 1190.4,2184.5" fill="#fff"/>
<polygon points="1213.4,2144.6 1213.4,2144.6 1236.4,2184.5 1213.4,2184.5" fill="#22dd22"/>
<polygon points="1213.4,2144.6 1236.4,2184.5 1190.4,2184.5" fill="none" stroke="#22dd22" stroke-width="2.2" stroke-linejoin="miter"/>
<polygon points="1431.5,2187.1 1454.5,2227 1408.5,2227" fill="#fff"/>
<polygon points="1431.5,2187.1 1431.5,2187.1 1454.5,2227 1431.5,2227" fill="#22dd22"/>
<polygon points="1431.5,2187.1 1454.5,2227 1408.5,2227" fill="none" stroke="#22dd22" stroke-width="2.2" stroke-linejoin="miter"/>
<polygon points="1649.5,2190 1672.5,2229.8 1626.5,2229.8" fill="#fff"/>
<polygon points="1649.5,2190 1649.5,2190 1672.5,2229.8 1649.5,2229.8" fill="#22dd22"/>
<polygon points="1649.5,2190 1672.5,2229.8 1626.5,2229.8" fill="none" stroke="#22dd22" stroke-width="2.2" stroke-linejoin="miter"/>
<polyline points="268.5,1444.5 559.2,1546.7 704.6,1869 850,2052.1 995.4,2126 1213.4,2162.5 1431.5,2196.5 1649.5,2213.7" fill="none" stroke="#0000ff" stroke-width="2.6" stroke-linejoin="round"/>
<polygon points="536.2,1533.4 582.2,1533.4 559.2,1573.2" fill="#fff"/>
<polygon points="559.2,1573.2 559.2,1533.4 582.2,1533.4 559.2,1573.2" fill="#0000ff"/>
<polygon points="536.2,1533.4 582.2,1533.4 559.2,1573.2" fill="none" stroke="#0000ff" stroke-width="2.2" stroke-linejoin="miter"/>
<polygon points="681.6,1855.8 727.6,1855.8 704.6,1895.6" fill="#fff"/>
<polygon points="704.6,1895.6 704.6,1855.8 727.6,1855.8 704.6,1895.6" fill="#0000ff"/>
<polygon points="681.6,1855.8 727.6,1855.8 704.6,1895.6" fill="none" stroke="#0000ff" stroke-width="2.2" stroke-linejoin="miter"/>
<polygon points="827,2038.9 873,2038.9 850,2078.7" fill="#fff"/>
<polygon points="850,2078.7 850,2038.9 873,2038.9 850,2078.7" fill="#0000ff"/>
<polygon points="827,2038.9 873,2038.9 850,2078.7" fill="none" stroke="#0000ff" stroke-width="2.2" stroke-linejoin="miter"/>
<polygon points="972.4,2112.7 1018.4,2112.7 995.4,2152.5" fill="#fff"/>
<polygon points="995.4,2152.5 995.4,2112.7 1018.4,2112.7 995.4,2152.5" fill="#0000ff"/>
<polygon points="972.4,2112.7 1018.4,2112.7 995.4,2152.5" fill="none" stroke="#0000ff" stroke-width="2.2" stroke-linejoin="miter"/>
<polygon points="1190.4,2149.2 1236.4,2149.2 1213.4,2189" fill="#fff"/>
<polygon points="1213.4,2189 1213.4,2149.2 1236.4,2149.2 1213.4,2189" fill="#0000ff"/>
<polygon points="1190.4,2149.2 1236.4,2149.2 1213.4,2189" fill="none" stroke="#0000ff" stroke-width="2.2" stroke-linejoin="miter"/>
<polygon points="1408.5,2183.2 1454.5,2183.2 1431.5,2223" fill="#fff"/>
<polygon points="1431.5,2223 1431.5,2183.2 1454.5,2183.2 1431.5,2223" fill="#0000ff"/>
<polygon points="1408.5,2183.2 1454.5,2183.2 1431.5,2223" fill="none" stroke="#0000ff" stroke-width="2.2" stroke-linejoin="miter"/>
<polygon points="1626.5,2200.4 1672.5,2200.4 1649.5,2240.2" fill="#fff"/>
<polygon points="1649.5,2240.2 1649.5,2200.4 1672.5,2200.4 1649.5,2240.2" fill="#0000ff"/>
<polygon points="1626.5,2200.4 1672.5,2200.4 1649.5,2240.2" fill="none" stroke="#0000ff" stroke-width="2.2" stroke-linejoin="miter"/>
<polyline points="268.5,1433 559.2,1506.5 704.6,1611 850,1722.3 995.4,1795 1213.4,1881.2 1431.5,1936.4 1649.5,1959" fill="none" stroke="#00f0f0" stroke-width="2.6" stroke-linejoin="round"/>
<polygon points="559.2,1483 582.7,1506.5 559.2,1530 535.7,1506.5" fill="#fff"/>
<polygon points="559.2,1483 559.2,1483 582.7,1506.5 559.2,1530 559.2,1530" fill="#00f0f0"/>
<polygon points="559.2,1483 582.7,1506.5 559.2,1530 535.7,1506.5" fill="none" stroke="#00f0f0" stroke-width="2.2" stroke-linejoin="miter"/>
<polygon points="704.6,1587.5 728.1,1611 704.6,1634.5 681.1,1611" fill="#fff"/>
<polygon points="704.6,1587.5 704.6,1587.5 728.1,1611 704.6,1634.5 704.6,1634.5" fill="#00f0f0"/>
<polygon points="704.6,1587.5 728.1,1611 704.6,1634.5 681.1,1611" fill="none" stroke="#00f0f0" stroke-width="2.2" stroke-linejoin="miter"/>
<polygon points="850,1698.8 873.5,1722.3 850,1745.8 826.5,1722.3" fill="#fff"/>
<polygon points="850,1698.8 850,1698.8 873.5,1722.3 850,1745.8 850,1745.8" fill="#00f0f0"/>
<polygon points="850,1698.8 873.5,1722.3 850,1745.8 826.5,1722.3" fill="none" stroke="#00f0f0" stroke-width="2.2" stroke-linejoin="miter"/>
<polygon points="995.4,1771.5 1018.9,1795 995.4,1818.5 971.9,1795" fill="#fff"/>
<polygon points="995.4,1771.5 995.4,1771.5 1018.9,1795 995.4,1818.5 995.4,1818.5" fill="#00f0f0"/>
<polygon points="995.4,1771.5 1018.9,1795 995.4,1818.5 971.9,1795" fill="none" stroke="#00f0f0" stroke-width="2.2" stroke-linejoin="miter"/>
<polygon points="1213.4,1857.7 1236.9,1881.2 1213.4,1904.7 1189.9,1881.2" fill="#fff"/>
<polygon points="1213.4,1857.7 1213.4,1857.7 1236.9,1881.2 1213.4,1904.7 1213.4,1904.7" fill="#00f0f0"/>
<polygon points="1213.4,1857.7 1236.9,1881.2 1213.4,1904.7 1189.9,1881.2" fill="none" stroke="#00f0f0" stroke-width="2.2" stroke-linejoin="miter"/>
<polygon points="1431.5,1912.9 1455,1936.4 1431.5,1959.9 1408,1936.4" fill="#fff"/>
<polygon points="1431.5,1912.9 1431.5,1912.9 1455,1936.4 1431.5,1959.9 1431.5,1959.9" fill="#00f0f0"/>
<polygon points="1431.5,1912.9 1455,1936.4 1431.5,1959.9 1408,1936.4" fill="none" stroke="#00f0f0" stroke-width="2.2" stroke-linejoin="miter"/>
<polygon points="1649.5,1935.5 1673,1959 1649.5,1982.5 1626,1959" fill="#fff"/>
<polygon points="1649.5,1935.5 1649.5,1935.5 1673,1959 1649.5,1982.5 1649.5,1982.5" fill="#00f0f0"/>
<polygon points="1649.5,1935.5 1673,1959 1649.5,1982.5 1626,1959" fill="none" stroke="#00f0f0" stroke-width="2.2" stroke-linejoin="miter"/>
<polyline points="268.5,1437.6 559.2,1521.4 704.6,1619 850,1668.8 995.4,1699.9 1213.4,1767.6 1431.5,1810 1649.5,1848.6" fill="none" stroke="#ff00ff" stroke-width="2.6" stroke-linejoin="round"/>
<polygon points="532.7,1521.4 572.5,1498.4 572.5,1544.4" fill="#fff"/>
<polygon points="559.2,1536.8 559.2,1506.1 572.5,1498.4 572.5,1544.4" fill="#ff00ff"/>
<polygon points="532.7,1521.4 572.5,1498.4 572.5,1544.4" fill="none" stroke="#ff00ff" stroke-width="2.2" stroke-linejoin="miter"/>
<polygon points="678.1,1619 717.9,1596 717.9,1642" fill="#fff"/>
<polygon points="704.6,1634.3 704.6,1603.7 717.9,1596 717.9,1642" fill="#ff00ff"/>
<polygon points="678.1,1619 717.9,1596 717.9,1642" fill="none" stroke="#ff00ff" stroke-width="2.2" stroke-linejoin="miter"/>
<polygon points="823.4,1668.8 863.3,1645.8 863.3,1691.8" fill="#fff"/>
<polygon points="850,1684.2 850,1653.5 863.3,1645.8 863.3,1691.8" fill="#ff00ff"/>
<polygon points="823.4,1668.8 863.3,1645.8 863.3,1691.8" fill="none" stroke="#ff00ff" stroke-width="2.2" stroke-linejoin="miter"/>
<polygon points="968.8,1699.9 1008.6,1676.9 1008.6,1722.9" fill="#fff"/>
<polygon points="995.4,1715.3 995.4,1684.6 1008.6,1676.9 1008.6,1722.9" fill="#ff00ff"/>
<polygon points="968.8,1699.9 1008.6,1676.9 1008.6,1722.9" fill="none" stroke="#ff00ff" stroke-width="2.2" stroke-linejoin="miter"/>
<polygon points="1186.8,1767.6 1226.7,1744.6 1226.7,1790.6" fill="#fff"/>
<polygon points="1213.4,1782.9 1213.4,1752.2 1226.7,1744.6 1226.7,1790.6" fill="#ff00ff"/>
<polygon points="1186.8,1767.6 1226.7,1744.6 1226.7,1790.6" fill="none" stroke="#ff00ff" stroke-width="2.2" stroke-linejoin="miter"/>
<polygon points="1404.9,1810 1444.7,1787 1444.7,1833" fill="#fff"/>
<polygon points="1431.5,1825.4 1431.5,1794.7 1444.7,1787 1444.7,1833" fill="#ff00ff"/>
<polygon points="1404.9,1810 1444.7,1787 1444.7,1833" fill="none" stroke="#ff00ff" stroke-width="2.2" stroke-linejoin="miter"/>
<polygon points="1623,1848.6 1662.8,1825.6 1662.8,1871.6" fill="#fff"/>
<polygon points="1649.5,1863.9 1649.5,1833.3 1662.8,1825.6 1662.8,1871.6" fill="#ff00ff"/>
<polygon points="1623,1848.6 1662.8,1825.6 1662.8,1871.6" fill="none" stroke="#ff00ff" stroke-width="2.2" stroke-linejoin="miter"/>
<path d="M850,1869.8V1918.1M842,1869.8h16M842,1918.1h16" stroke="#000000" stroke-width="2.0" fill="none"/>
<path d="M995.4,1956.9V2017.9M987.4,1956.9h16M987.4,2017.9h16" stroke="#000000" stroke-width="2.0" fill="none"/>
<path d="M1431.5,2139.1V2201M1423.5,2139.1h16M1423.5,2201h16" stroke="#000000" stroke-width="2.0" fill="none"/>
<path d="M1649.5,2178.8V2220.1M1641.5,2178.8h16M1641.5,2220.1h16" stroke="#000000" stroke-width="2.0" fill="none"/>
<path d="M704.6,1805V1855.5M696.6,1805h16M696.6,1855.5h16" stroke="#ff0000" stroke-width="2.0" fill="none"/>
<path d="M1213.4,2136.8V2205.6M1205.4,2136.8h16M1205.4,2205.6h16" stroke="#22dd22" stroke-width="2.0" fill="none"/>
<path d="M1431.5,2180.4V2247M1423.5,2180.4h16M1423.5,2247h16" stroke="#22dd22" stroke-width="2.0" fill="none"/>
<path d="M850,2025.2V2079.1M842,2025.2h16M842,2079.1h16" stroke="#0000ff" stroke-width="2.0" fill="none"/>
<path d="M995.4,2097.3V2154.7M987.4,2097.3h16M987.4,2154.7h16" stroke="#0000ff" stroke-width="2.0" fill="none"/>
<path d="M995.4,1767.4V1822.5M987.4,1767.4h16M987.4,1822.5h16" stroke="#00f0f0" stroke-width="2.0" fill="none"/>
<path d="M559.2,1507.7V1535.2M551.2,1507.7h16M551.2,1535.2h16" stroke="#ff00ff" stroke-width="2.0" fill="none"/>
<path d="M704.6,1588.6V1649.4M696.6,1588.6h16M696.6,1649.4h16" stroke="#ff00ff" stroke-width="2.0" fill="none"/>
<path d="M850,1644.7V1692.9M842,1644.7h16M842,1692.9h16" stroke="#ff00ff" stroke-width="2.0" fill="none"/>
<path d="M995.4,1668.9V1730.9M987.4,1668.9h16M987.4,1730.9h16" stroke="#ff00ff" stroke-width="2.0" fill="none"/>
<path d="M1213.4,1743.5V1791.7M1205.4,1743.5h16M1205.4,1791.7h16" stroke="#ff00ff" stroke-width="2.0" fill="none"/>
<path d="M1431.5,1781.3V1838.7M1423.5,1781.3h16M1423.5,1838.7h16" stroke="#ff00ff" stroke-width="2.0" fill="none"/>
<path d="M1649.5,1824.5V1872.7M1641.5,1824.5h16M1641.5,1872.7h16" stroke="#ff00ff" stroke-width="2.0" fill="none"/>
<rect x="268.5" y="1394" width="1453.7" height="1148" fill="none" stroke="#000" stroke-width="4"/>
<path d="M413.9,2542v-12.5M704.6,2542v-12.5M995.4,2542v-12.5M1286.1,2542v-12.5M1576.8,2542v-12.5M559.2,2542v-6.5M850,2542v-6.5M1140.7,2542v-6.5M1431.5,2542v-6.5M1722.2,2542v-6.5M268.5,2542h12M268.5,2427.2h5.5M268.5,2312.4h12M268.5,2197.6h5.5M268.5,2082.8h12M268.5,1968h5.5M268.5,1853.2h12M268.5,1738.4h5.5M268.5,1623.6h12M268.5,1508.8h5.5M268.5,1394h12" stroke="#000" stroke-width="3" fill="none"/>
<text x="253.5" y="2557.8" font-size="50" text-anchor="end">0.0</text>
<text x="253.5" y="2328.2" font-size="50" text-anchor="end">0.2</text>
<text x="253.5" y="2098.6" font-size="50" text-anchor="end">0.4</text>
<text x="253.5" y="1868.9" font-size="50" text-anchor="end">0.6</text>
<text x="253.5" y="1639.3" font-size="50" text-anchor="end">0.8</text>
<text x="253.5" y="1409.8" font-size="50" text-anchor="end">1.0</text>
<text x="413.9" y="2594.5" font-size="50" text-anchor="middle">40</text>
<text x="704.6" y="2594.5" font-size="50" text-anchor="middle">80</text>
<text x="995.4" y="2594.5" font-size="50" text-anchor="middle">120</text>
<text x="1286.1" y="2594.5" font-size="50" text-anchor="middle">160</text>
<text x="1576.8" y="2594.5" font-size="50" text-anchor="middle">200</text>
<text x="1006" y="2679" font-size="59" text-anchor="middle">Time (min)</text>
<text x="133.5" y="1953" font-size="61" text-anchor="middle" transform="rotate(-90 133.5 1953)">C<tspan font-size="37.8" dy="18.3">t</tspan><tspan dy="-18.3">/C</tspan><tspan font-size="37.8" dy="18.3">0</tspan></text>
<text x="48" y="1437.8" font-size="87" text-anchor="start">(b)</text>
<text x="306" y="2226" font-size="44" text-anchor="start">Absorption</text>
<text x="587" y="2226" font-size="44" text-anchor="start">Photocatalysis</text>
<line x1="531.5" y1="2261" x2="350.5" y2="2261" stroke="#000" stroke-width="2.5"/>
<polygon points="332.5,2261 362.5,2253.5 358,2261 362.5,2268.5" fill="#000"/>
<line x1="596.5" y1="2261" x2="789.6" y2="2261" stroke="#000" stroke-width="2.5"/>
<polygon points="807.6,2261 777.6,2253.5 782.1,2261 777.6,2268.5" fill="#000"/>
<line x1="597" y1="2356" x2="712" y2="2356" stroke="#ff00ff" stroke-width="2.6"/>
<polygon points="627.9,2356 667.8,2333 667.8,2379" fill="#fff"/>
<polygon points="654.5,2371.3 654.5,2340.7 667.8,2333 667.8,2379" fill="#ff00ff"/>
<polygon points="627.9,2356 667.8,2333 667.8,2379" fill="none" stroke="#ff00ff" stroke-width="2.2" stroke-linejoin="miter"/>
<text x="723.8" y="2372.7" font-size="48.5" text-anchor="start">0.1 g/L</text>
<line x1="913.7" y1="2356" x2="1028.5" y2="2356" stroke="#00f0f0" stroke-width="2.6"/>
<polygon points="971.1,2332.5 994.6,2356 971.1,2379.5 947.6,2356" fill="#fff"/>
<polygon points="971.1,2332.5 971.1,2332.5 994.6,2356 971.1,2379.5 971.1,2379.5" fill="#00f0f0"/>
<polygon points="971.1,2332.5 994.6,2356 971.1,2379.5 947.6,2356" fill="none" stroke="#00f0f0" stroke-width="2.2" stroke-linejoin="miter"/>
<text x="1039.4" y="2372.7" font-size="48.5" text-anchor="start">0.2 g/L</text>
<line x1="1233.7" y1="2356" x2="1350" y2="2356" stroke="#000000" stroke-width="2.6"/>
<polygon points="1274.3,2338.5 1309.3,2338.5 1309.3,2373.5 1274.3,2373.5" fill="#fff"/>
<polygon points="1291.8,2338.5 1309.3,2338.5 1309.3,2373.5 1291.8,2373.5" fill="#000000"/>
<polygon points="1274.3,2338.5 1309.3,2338.5 1309.3,2373.5 1274.3,2373.5" fill="none" stroke="#000000" stroke-width="2.2" stroke-linejoin="miter"/>
<text x="1360.4" y="2372.7" font-size="48.5" text-anchor="start">0.5 g/L</text>
<line x1="597" y1="2432.4" x2="712" y2="2432.4" stroke="#ff0000" stroke-width="2.6"/>
<circle cx="654.5" cy="2432.4" r="19.3" fill="#fff"/>
<path d="M654.5,2413.1 A19.3,19.3 0 0 1 654.5,2451.7 Z" fill="#ff0000"/>
<circle cx="654.5" cy="2432.4" r="19.3" fill="none" stroke="#ff0000" stroke-width="2.2"/>
<text x="723.6" y="2449.1" font-size="48.5" text-anchor="start">1 g/L</text>
<line x1="913.7" y1="2432.4" x2="1028.5" y2="2432.4" stroke="#22dd22" stroke-width="2.6"/>
<polygon points="971.1,2405.8 994.1,2445.7 948.1,2445.7" fill="#fff"/>
<polygon points="971.1,2405.8 971.1,2405.8 994.1,2445.7 971.1,2445.7" fill="#22dd22"/>
<polygon points="971.1,2405.8 994.1,2445.7 948.1,2445.7" fill="none" stroke="#22dd22" stroke-width="2.2" stroke-linejoin="miter"/>
<text x="1039.6" y="2449.1" font-size="48.5" text-anchor="start">2 g/L</text>
<line x1="1233.7" y1="2432.4" x2="1350" y2="2432.4" stroke="#0000ff" stroke-width="2.6"/>
<polygon points="1268.8,2419.1 1314.8,2419.1 1291.8,2459" fill="#fff"/>
<polygon points="1291.8,2459 1291.8,2419.1 1314.8,2419.1 1291.8,2459" fill="#0000ff"/>
<polygon points="1268.8,2419.1 1314.8,2419.1 1291.8,2459" fill="none" stroke="#0000ff" stroke-width="2.2" stroke-linejoin="miter"/>
<text x="1360.4" y="2449.1" font-size="48.5" text-anchor="start">3 g/L</text>
<line x1="558.7" y1="2728.5" x2="558.7" y2="3912.7" stroke="#c8405a" stroke-width="3" stroke-dasharray="20.5 11.5 7 9.7 7 11.5" stroke-dashoffset="45"/>
<polyline points="268.5,2762.8 559.2,2820.2 704.6,2889.6 850,2905.7 995.4,2919.7 1213.4,2933.4 1431.5,2945 1649.5,2960.8" fill="none" stroke="#000000" stroke-width="3.0" stroke-linejoin="round"/>
<polygon points="540,2800.9 578.5,2800.9 578.5,2839.4 540,2839.4" fill="#fff"/>
<polygon points="540,2820.2 540,2800.9 578.5,2800.9 578.5,2820.2" fill="#000000"/>
<polygon points="540,2800.9 578.5,2800.9 578.5,2839.4 540,2839.4" fill="none" stroke="#000000" stroke-width="2.2" stroke-linejoin="miter"/>
<polygon points="685.4,2870.3 723.9,2870.3 723.9,2908.8 685.4,2908.8" fill="#fff"/>
<polygon points="685.4,2889.6 685.4,2870.3 723.9,2870.3 723.9,2889.6" fill="#000000"/>
<polygon points="685.4,2870.3 723.9,2870.3 723.9,2908.8 685.4,2908.8" fill="none" stroke="#000000" stroke-width="2.2" stroke-linejoin="miter"/>
<polygon points="830.7,2886.4 869.2,2886.4 869.2,2924.9 830.7,2924.9" fill="#fff"/>
<polygon points="830.7,2905.7 830.7,2886.4 869.2,2886.4 869.2,2905.7" fill="#000000"/>
<polygon points="830.7,2886.4 869.2,2886.4 869.2,2924.9 830.7,2924.9" fill="none" stroke="#000000" stroke-width="2.2" stroke-linejoin="miter"/>
<polygon points="976.1,2900.5 1014.6,2900.5 1014.6,2939 976.1,2939" fill="#fff"/>
<polygon points="976.1,2919.7 976.1,2900.5 1014.6,2900.5 1014.6,2919.7" fill="#000000"/>
<polygon points="976.1,2900.5 1014.6,2900.5 1014.6,2939 976.1,2939" fill="none" stroke="#000000" stroke-width="2.2" stroke-linejoin="miter"/>
<polygon points="1194.2,2914.1 1232.7,2914.1 1232.7,2952.6 1194.2,2952.6" fill="#fff"/>
<polygon points="1194.2,2933.4 1194.2,2914.1 1232.7,2914.1 1232.7,2933.4" fill="#000000"/>
<polygon points="1194.2,2914.1 1232.7,2914.1 1232.7,2952.6 1194.2,2952.6" fill="none" stroke="#000000" stroke-width="2.2" stroke-linejoin="miter"/>
<polygon points="1412.2,2925.7 1450.7,2925.7 1450.7,2964.2 1412.2,2964.2" fill="#fff"/>
<polygon points="1412.2,2945 1412.2,2925.7 1450.7,2925.7 1450.7,2945" fill="#000000"/>
<polygon points="1412.2,2925.7 1450.7,2925.7 1450.7,2964.2 1412.2,2964.2" fill="none" stroke="#000000" stroke-width="2.2" stroke-linejoin="miter"/>
<polygon points="1630.3,2941.6 1668.8,2941.6 1668.8,2980.1 1630.3,2980.1" fill="#fff"/>
<polygon points="1630.3,2960.8 1630.3,2941.6 1668.8,2941.6 1668.8,2960.8" fill="#000000"/>
<polygon points="1630.3,2941.6 1668.8,2941.6 1668.8,2980.1 1630.3,2980.1" fill="none" stroke="#000000" stroke-width="2.2" stroke-linejoin="miter"/>
<polyline points="268.5,2751 559.2,2786.5 704.6,3263.8 850,3441.7 995.4,3507.7 1213.4,3585.2 1431.5,3646 1649.5,3666" fill="none" stroke="#ff8000" stroke-width="3.0" stroke-linejoin="round"/>
<polygon points="530,2786.5 573.8,2761.2 573.8,2811.8" fill="#fff"/>
<polygon points="530,2786.5 530,2786.5 573.8,2761.2 573.8,2786.5" fill="#ff8000"/>
<polygon points="530,2786.5 573.8,2761.2 573.8,2811.8" fill="none" stroke="#ff8000" stroke-width="2.2" stroke-linejoin="miter"/>
<polygon points="675.4,3263.8 719.2,3238.5 719.2,3289.1" fill="#fff"/>
<polygon points="675.4,3263.8 675.4,3263.8 719.2,3238.5 719.2,3263.8" fill="#ff8000"/>
<polygon points="675.4,3263.8 719.2,3238.5 719.2,3289.1" fill="none" stroke="#ff8000" stroke-width="2.2" stroke-linejoin="miter"/>
<polygon points="820.8,3441.7 864.6,3416.4 864.6,3467" fill="#fff"/>
<polygon points="820.8,3441.7 820.8,3441.7 864.6,3416.4 864.6,3441.7" fill="#ff8000"/>
<polygon points="820.8,3441.7 864.6,3416.4 864.6,3467" fill="none" stroke="#ff8000" stroke-width="2.2" stroke-linejoin="miter"/>
<polygon points="966.1,3507.7 1010,3482.4 1010,3533" fill="#fff"/>
<polygon points="966.1,3507.7 966.1,3507.7 1010,3482.4 1010,3507.7" fill="#ff8000"/>
<polygon points="966.1,3507.7 1010,3482.4 1010,3533" fill="none" stroke="#ff8000" stroke-width="2.2" stroke-linejoin="miter"/>
<polygon points="1184.2,3585.2 1228,3559.9 1228,3610.5" fill="#fff"/>
<polygon points="1184.2,3585.2 1184.2,3585.2 1228,3559.9 1228,3585.2" fill="#ff8000"/>
<polygon points="1184.2,3585.2 1228,3559.9 1228,3610.5" fill="none" stroke="#ff8000" stroke-width="2.2" stroke-linejoin="miter"/>
<polygon points="1402.2,3646 1446.1,3620.7 1446.1,3671.3" fill="#fff"/>
<polygon points="1402.2,3646 1402.2,3646 1446.1,3620.7 1446.1,3646" fill="#ff8000"/>
<polygon points="1402.2,3646 1446.1,3620.7 1446.1,3671.3" fill="none" stroke="#ff8000" stroke-width="2.2" stroke-linejoin="miter"/>
<polygon points="1620.3,3666 1664.1,3640.7 1664.1,3691.3" fill="#fff"/>
<polygon points="1620.3,3666 1620.3,3666 1664.1,3640.7 1664.1,3666" fill="#ff8000"/>
<polygon points="1620.3,3666 1664.1,3640.7 1664.1,3691.3" fill="none" stroke="#ff8000" stroke-width="2.2" stroke-linejoin="miter"/>
<polyline points="268.5,2759.3 559.2,2806.1 704.6,3139.4 850,3367 995.4,3454.4 1213.4,3525.9 1431.5,3586.5 1649.5,3620.4" fill="none" stroke="#0000ff" stroke-width="3.0" stroke-linejoin="round"/>
<polygon points="559.2,2779.7 584.3,2797.9 574.8,2827.4 543.7,2827.4 534.1,2797.9" fill="#fff"/>
<polygon points="559.2,2779.7 559.2,2779.7 584.3,2797.9 574.8,2827.4 559.2,2827.4" fill="#0000ff"/>
<polygon points="559.2,2779.7 584.3,2797.9 574.8,2827.4 543.7,2827.4 534.1,2797.9" fill="none" stroke="#0000ff" stroke-width="2.2" stroke-linejoin="miter"/>
<polygon points="704.6,3113 729.7,3131.3 720.1,3160.8 689.1,3160.8 679.5,3131.3" fill="#fff"/>
<polygon points="704.6,3113 704.6,3113 729.7,3131.3 720.1,3160.8 704.6,3160.8" fill="#0000ff"/>
<polygon points="704.6,3113 729.7,3131.3 720.1,3160.8 689.1,3160.8 679.5,3131.3" fill="none" stroke="#0000ff" stroke-width="2.2" stroke-linejoin="miter"/>
<polygon points="850,3340.6 875.1,3358.9 865.5,3388.4 834.5,3388.4 824.9,3358.9" fill="#fff"/>
<polygon points="850,3340.6 850,3340.6 875.1,3358.9 865.5,3388.4 850,3388.4" fill="#0000ff"/>
<polygon points="850,3340.6 875.1,3358.9 865.5,3388.4 834.5,3388.4 824.9,3358.9" fill="none" stroke="#0000ff" stroke-width="2.2" stroke-linejoin="miter"/>
<polygon points="995.4,3428 1020.5,3446.3 1010.9,3475.8 979.8,3475.8 970.2,3446.3" fill="#fff"/>
<polygon points="995.4,3428 995.4,3428 1020.5,3446.3 1010.9,3475.8 995.4,3475.8" fill="#0000ff"/>
<polygon points="995.4,3428 1020.5,3446.3 1010.9,3475.8 979.8,3475.8 970.2,3446.3" fill="none" stroke="#0000ff" stroke-width="2.2" stroke-linejoin="miter"/>
<polygon points="1213.4,3499.5 1238.5,3517.8 1228.9,3547.3 1197.9,3547.3 1188.3,3517.8" fill="#fff"/>
<polygon points="1213.4,3499.5 1213.4,3499.5 1238.5,3517.8 1228.9,3547.3 1213.4,3547.3" fill="#0000ff"/>
<polygon points="1213.4,3499.5 1238.5,3517.8 1228.9,3547.3 1197.9,3547.3 1188.3,3517.8" fill="none" stroke="#0000ff" stroke-width="2.2" stroke-linejoin="miter"/>
<polygon points="1431.5,3560.1 1456.6,3578.3 1447,3607.8 1415.9,3607.8 1406.4,3578.3" fill="#fff"/>
<polygon points="1431.5,3560.1 1431.5,3560.1 1456.6,3578.3 1447,3607.8 1431.5,3607.8" fill="#0000ff"/>
<polygon points="1431.5,3560.1 1456.6,3578.3 1447,3607.8 1415.9,3607.8 1406.4,3578.3" fill="none" stroke="#0000ff" stroke-width="2.2" stroke-linejoin="miter"/>
<polygon points="1649.5,3594 1674.6,3612.3 1665,3641.8 1634,3641.8 1624.4,3612.3" fill="#fff"/>
<polygon points="1649.5,3594 1649.5,3594 1674.6,3612.3 1665,3641.8 1649.5,3641.8" fill="#0000ff"/>
<polygon points="1649.5,3594 1674.6,3612.3 1665,3641.8 1634,3641.8 1624.4,3612.3" fill="none" stroke="#0000ff" stroke-width="2.2" stroke-linejoin="miter"/>
<polyline points="268.5,2772.3 559.2,2855.2 704.6,3044.7 850,3218 995.4,3315.3 1213.4,3427.2 1431.5,3505.7 1649.5,3543.7" fill="none" stroke="#ff00ff" stroke-width="3.0" stroke-linejoin="round"/>
<polygon points="559.2,2829.4 585.1,2855.2 559.2,2881.1 533.4,2855.2" fill="#fff"/>
<polygon points="559.2,2829.4 585.1,2855.2 585.1,2855.2 533.4,2855.2 533.4,2855.2" fill="#ff00ff"/>
<polygon points="559.2,2829.4 585.1,2855.2 559.2,2881.1 533.4,2855.2" fill="none" stroke="#ff00ff" stroke-width="2.2" stroke-linejoin="miter"/>
<polygon points="704.6,3018.8 730.5,3044.7 704.6,3070.5 678.8,3044.7" fill="#fff"/>
<polygon points="704.6,3018.8 730.5,3044.7 730.5,3044.7 678.8,3044.7 678.8,3044.7" fill="#ff00ff"/>
<polygon points="704.6,3018.8 730.5,3044.7 704.6,3070.5 678.8,3044.7" fill="none" stroke="#ff00ff" stroke-width="2.2" stroke-linejoin="miter"/>
<polygon points="850,3192.2 875.8,3218 850,3243.9 824.1,3218" fill="#fff"/>
<polygon points="850,3192.2 875.8,3218 875.8,3218 824.1,3218 824.1,3218" fill="#ff00ff"/>
<polygon points="850,3192.2 875.8,3218 850,3243.9 824.1,3218" fill="none" stroke="#ff00ff" stroke-width="2.2" stroke-linejoin="miter"/>
<polygon points="995.4,3289.4 1021.2,3315.3 995.4,3341.1 969.5,3315.3" fill="#fff"/>
<polygon points="995.4,3289.4 1021.2,3315.3 1021.2,3315.3 969.5,3315.3 969.5,3315.3" fill="#ff00ff"/>
<polygon points="995.4,3289.4 1021.2,3315.3 995.4,3341.1 969.5,3315.3" fill="none" stroke="#ff00ff" stroke-width="2.2" stroke-linejoin="miter"/>
<polygon points="1213.4,3401.3 1239.3,3427.2 1213.4,3453 1187.6,3427.2" fill="#fff"/>
<polygon points="1213.4,3401.3 1239.3,3427.2 1239.3,3427.2 1187.6,3427.2 1187.6,3427.2" fill="#ff00ff"/>
<polygon points="1213.4,3401.3 1239.3,3427.2 1213.4,3453 1187.6,3427.2" fill="none" stroke="#ff00ff" stroke-width="2.2" stroke-linejoin="miter"/>
<polygon points="1431.5,3479.8 1457.3,3505.7 1431.5,3531.5 1405.6,3505.7" fill="#fff"/>
<polygon points="1431.5,3479.8 1457.3,3505.7 1457.3,3505.7 1405.6,3505.7 1405.6,3505.7" fill="#ff00ff"/>
<polygon points="1431.5,3479.8 1457.3,3505.7 1431.5,3531.5 1405.6,3505.7" fill="none" stroke="#ff00ff" stroke-width="2.2" stroke-linejoin="miter"/>
<polygon points="1649.5,3517.9 1675.4,3543.7 1649.5,3569.6 1623.7,3543.7" fill="#fff"/>
<polygon points="1649.5,3517.9 1675.4,3543.7 1675.4,3543.7 1623.7,3543.7 1623.7,3543.7" fill="#ff00ff"/>
<polygon points="1649.5,3517.9 1675.4,3543.7 1649.5,3569.6 1623.7,3543.7" fill="none" stroke="#ff00ff" stroke-width="2.2" stroke-linejoin="miter"/>
<polyline points="268.5,2755.7 559.2,2798.4 704.6,2891.9 850,2971.6 995.4,3115.1 1213.4,3237.1 1431.5,3328.8 1649.5,3334.3" fill="none" stroke="#008000" stroke-width="3.0" stroke-linejoin="round"/>
<polygon points="559.2,2769.2 584.5,2813 533.9,2813" fill="#fff"/>
<polygon points="542.4,2798.4 559.2,2769.2 576.1,2798.4" fill="#008000"/>
<polygon points="559.2,2769.2 584.5,2813 533.9,2813" fill="none" stroke="#008000" stroke-width="2.2" stroke-linejoin="miter"/>
<polygon points="704.6,2862.7 729.9,2906.5 679.3,2906.5" fill="#fff"/>
<polygon points="687.7,2891.9 704.6,2862.7 721.5,2891.9" fill="#008000"/>
<polygon points="704.6,2862.7 729.9,2906.5 679.3,2906.5" fill="none" stroke="#008000" stroke-width="2.2" stroke-linejoin="miter"/>
<polygon points="850,2942.4 875.3,2986.2 824.7,2986.2" fill="#fff"/>
<polygon points="833.1,2971.6 850,2942.4 866.8,2971.6" fill="#008000"/>
<polygon points="850,2942.4 875.3,2986.2 824.7,2986.2" fill="none" stroke="#008000" stroke-width="2.2" stroke-linejoin="miter"/>
<polygon points="995.4,3085.9 1020.6,3129.7 970.1,3129.7" fill="#fff"/>
<polygon points="978.5,3115.1 995.4,3085.9 1012.2,3115.1" fill="#008000"/>
<polygon points="995.4,3085.9 1020.6,3129.7 970.1,3129.7" fill="none" stroke="#008000" stroke-width="2.2" stroke-linejoin="miter"/>
<polygon points="1213.4,3207.9 1238.7,3251.7 1188.1,3251.7" fill="#fff"/>
<polygon points="1196.5,3237.1 1213.4,3207.9 1230.3,3237.1" fill="#008000"/>
<polygon points="1213.4,3207.9 1238.7,3251.7 1188.1,3251.7" fill="none" stroke="#008000" stroke-width="2.2" stroke-linejoin="miter"/>
<polygon points="1431.5,3299.6 1456.8,3343.4 1406.2,3343.4" fill="#fff"/>
<polygon points="1414.6,3328.8 1431.5,3299.6 1448.3,3328.8" fill="#008000"/>
<polygon points="1431.5,3299.6 1456.8,3343.4 1406.2,3343.4" fill="none" stroke="#008000" stroke-width="2.2" stroke-linejoin="miter"/>
<polygon points="1649.5,3305.1 1674.8,3348.9 1624.2,3348.9" fill="#fff"/>
<polygon points="1632.6,3334.3 1649.5,3305.1 1666.4,3334.3" fill="#008000"/>
<polygon points="1649.5,3305.1 1674.8,3348.9 1624.2,3348.9" fill="none" stroke="#008000" stroke-width="2.2" stroke-linejoin="miter"/>
<line x1="268.5" y1="2772.3" x2="559.2" y2="2852.8" stroke="#ff0080" stroke-width="3.0"/>
<line x1="559.2" y1="2852.8" x2="704.6" y2="2900.6" stroke="#ff0000" stroke-width="3.0"/>
<line x1="704.6" y1="2900.6" x2="850" y2="2922.7" stroke="#ff0000" stroke-width="3.0"/>
<line x1="850" y1="2922.7" x2="995.4" y2="2996.1" stroke="#ff0080" stroke-width="3.0"/>
<line x1="995.4" y1="2996.1" x2="1213.4" y2="3088.1" stroke="#ff0080" stroke-width="3.0"/>
<line x1="1213.4" y1="3088.1" x2="1431.5" y2="3125.6" stroke="#ff0080" stroke-width="3.0"/>
<line x1="1431.5" y1="3125.6" x2="1649.5" y2="3139.8" stroke="#ff0080" stroke-width="3.0"/>
<circle cx="559.2" cy="2852.8" r="21.2" fill="#fff"/>
<path d="M538,2852.8 A21.2,21.2 0 0 1 580.5,2852.8 Z" fill="#ff0080"/>
<circle cx="559.2" cy="2852.8" r="21.2" fill="none" stroke="#ff0080" stroke-width="2.2"/>
<circle cx="704.6" cy="2900.6" r="21.2" fill="#fff"/>
<path d="M683.4,2900.6 A21.2,21.2 0 0 1 725.8,2900.6 Z" fill="#ff0000"/>
<circle cx="704.6" cy="2900.6" r="21.2" fill="none" stroke="#ff0000" stroke-width="2.2"/>
<circle cx="850" cy="2922.7" r="21.2" fill="#fff"/>
<path d="M828.8,2922.7 A21.2,21.2 0 0 1 871.2,2922.7 Z" fill="#ff0080"/>
<circle cx="850" cy="2922.7" r="21.2" fill="none" stroke="#ff0080" stroke-width="2.2"/>
<circle cx="995.4" cy="2996.1" r="21.2" fill="#fff"/>
<path d="M974.1,2996.1 A21.2,21.2 0 0 1 1016.6,2996.1 Z" fill="#ff0080"/>
<circle cx="995.4" cy="2996.1" r="21.2" fill="none" stroke="#ff0080" stroke-width="2.2"/>
<circle cx="1213.4" cy="3088.1" r="21.2" fill="#fff"/>
<path d="M1192.2,3088.1 A21.2,21.2 0 0 1 1234.6,3088.1 Z" fill="#ff0080"/>
<circle cx="1213.4" cy="3088.1" r="21.2" fill="none" stroke="#ff0080" stroke-width="2.2"/>
<circle cx="1431.5" cy="3125.6" r="21.2" fill="#fff"/>
<path d="M1410.2,3125.6 A21.2,21.2 0 0 1 1452.7,3125.6 Z" fill="#ff0080"/>
<circle cx="1431.5" cy="3125.6" r="21.2" fill="none" stroke="#ff0080" stroke-width="2.2"/>
<circle cx="1649.5" cy="3139.8" r="21.2" fill="#fff"/>
<path d="M1628.3,3139.8 A21.2,21.2 0 0 1 1670.7,3139.8 Z" fill="#ff0080"/>
<circle cx="1649.5" cy="3139.8" r="21.2" fill="none" stroke="#ff0080" stroke-width="2.2"/>
<path d="M704.6,2859.9V2919.2M696.6,2859.9h16M696.6,2919.2h16" stroke="#000000" stroke-width="2.0" fill="none"/>
<path d="M850,2877.2V2934.1M842,2877.2h16M842,2934.1h16" stroke="#000000" stroke-width="2.0" fill="none"/>
<path d="M995.4,2885.4V2954.1M987.4,2885.4h16M987.4,2954.1h16" stroke="#000000" stroke-width="2.0" fill="none"/>
<path d="M1213.4,2908.5V2958.2M1205.4,2908.5h16M1205.4,2958.2h16" stroke="#000000" stroke-width="2.0" fill="none"/>
<path d="M1431.5,2920.1V2969.8M1423.5,2920.1h16M1423.5,2969.8h16" stroke="#000000" stroke-width="2.0" fill="none"/>
<path d="M1649.5,2938.8V2982.9M1641.5,2938.8h16M1641.5,2982.9h16" stroke="#000000" stroke-width="2.0" fill="none"/>
<path d="M559.2,2768.8V2804.3M551.2,2768.8h16M551.2,2804.3h16" stroke="#ff8000" stroke-width="2.0" fill="none"/>
<path d="M850,3414.5V3469M842,3414.5h16M842,3469h16" stroke="#ff8000" stroke-width="2.0" fill="none"/>
<path d="M995.4,3478.1V3537.3M987.4,3478.1h16M987.4,3537.3h16" stroke="#ff8000" stroke-width="2.0" fill="none"/>
<path d="M1213.4,3555.5V3614.8M1205.4,3555.5h16M1205.4,3614.8h16" stroke="#ff8000" stroke-width="2.0" fill="none"/>
<path d="M1431.5,3618.8V3673.3M1423.5,3618.8h16M1423.5,3673.3h16" stroke="#ff8000" stroke-width="2.0" fill="none"/>
<path d="M1649.5,3640.6V3691.5M1641.5,3640.6h16M1641.5,3691.5h16" stroke="#ff8000" stroke-width="2.0" fill="none"/>
<path d="M1213.4,3496.8V3555.1M1205.4,3496.8h16M1205.4,3555.1h16" stroke="#0000ff" stroke-width="2.0" fill="none"/>
<path d="M850,3183.7V3252.4M842,3183.7h16M842,3252.4h16" stroke="#ff00ff" stroke-width="2.0" fill="none"/>
<path d="M704.6,2860.4V2923.4M696.6,2860.4h16M696.6,2923.4h16" stroke="#008000" stroke-width="2.0" fill="none"/>
<path d="M850,2942V3001.2M842,2942h16M842,3001.2h16" stroke="#008000" stroke-width="2.0" fill="none"/>
<path d="M995.4,3095V3135.3M987.4,3095h16M987.4,3135.3h16" stroke="#008000" stroke-width="2.0" fill="none"/>
<path d="M1213.4,3202.8V3271.5M1205.4,3202.8h16M1205.4,3271.5h16" stroke="#008000" stroke-width="2.0" fill="none"/>
<path d="M1431.5,3293.8V3363.7M1423.5,3293.8h16M1423.5,3363.7h16" stroke="#008000" stroke-width="2.0" fill="none"/>
<path d="M1649.5,3305.3V3363.3M1641.5,3305.3h16M1641.5,3363.3h16" stroke="#008000" stroke-width="2.0" fill="none"/>
<path d="M995.4,2966.5V3025.7M987.4,2966.5h16M987.4,3025.7h16" stroke="#ff0080" stroke-width="2.0" fill="none"/>
<path d="M1213.4,3065V3111.2M1205.4,3065h16M1205.4,3111.2h16" stroke="#ff0080" stroke-width="2.0" fill="none"/>
<path d="M1431.5,3093.6V3157.5M1423.5,3093.6h16M1423.5,3157.5h16" stroke="#ff0080" stroke-width="2.0" fill="none"/>
<rect x="268.5" y="2728.5" width="1453.7" height="1184.2" fill="none" stroke="#000" stroke-width="4"/>
<path d="M413.9,3912.7v-12.5M704.6,3912.7v-12.5M995.4,3912.7v-12.5M1286.1,3912.7v-12.5M1576.8,3912.7v-12.5M559.2,3912.7v-6.5M850,3912.7v-6.5M1140.7,3912.7v-6.5M1431.5,3912.7v-6.5M1722.2,3912.7v-6.5M268.5,3912.7h12M268.5,3794.3h5.5M268.5,3675.9h12M268.5,3557.4h5.5M268.5,3439h12M268.5,3320.6h5.5M268.5,3202.2h12M268.5,3083.8h5.5M268.5,2965.3h12M268.5,2846.9h5.5M268.5,2728.5h12" stroke="#000" stroke-width="3" fill="none"/>
<text x="250" y="3931" font-size="58" text-anchor="end">0.0</text>
<text x="250" y="3694.1" font-size="58" text-anchor="end">0.2</text>
<text x="250" y="3457.3" font-size="58" text-anchor="end">0.4</text>
<text x="250" y="3220.4" font-size="58" text-anchor="end">0.6</text>
<text x="250" y="2983.6" font-size="58" text-anchor="end">0.8</text>
<text x="250" y="2746.8" font-size="58" text-anchor="end">1.0</text>
<text x="413.9" y="3975" font-size="58" text-anchor="middle">40</text>
<text x="704.6" y="3975" font-size="58" text-anchor="middle">80</text>
<text x="995.4" y="3975" font-size="58" text-anchor="middle">120</text>
<text x="1286.1" y="3975" font-size="58" text-anchor="middle">160</text>
<text x="1576.8" y="3975" font-size="58" text-anchor="middle">200</text>
<text x="995.5" y="4072.5" font-size="63.5" text-anchor="middle">Time (min)</text>
<text x="142.5" y="3321" font-size="66" text-anchor="middle" transform="rotate(-90 142.5 3321)">C<tspan font-size="40.9" dy="19.8">t</tspan><tspan dy="-19.8">/C</tspan><tspan font-size="40.9" dy="19.8">0</tspan></text>
<text x="41.5" y="2753" font-size="90" text-anchor="start">(c)</text>
<text x="313.5" y="3560.6" font-size="48" text-anchor="start">Adsorption</text>
<text x="572" y="3566" font-size="48" text-anchor="start">Photocatalysis</text>
<line x1="533" y1="3599" x2="344" y2="3599" stroke="#000" stroke-width="2.5"/>
<polygon points="326,3599 356,3591.5 351.5,3599 356,3606.5" fill="#000"/>
<line x1="576.5" y1="3601.7" x2="789.6" y2="3601.7" stroke="#000" stroke-width="2.5"/>
<polygon points="807.6,3601.7 777.6,3594.2 782.1,3601.7 777.6,3609.2" fill="#000"/>
<line x1="621.6" y1="3678.3" x2="744.9" y2="3678.3" stroke="#ff8000" stroke-width="3.0"/>
<polygon points="654.6,3678.3 697.6,3653.5 697.6,3703.1" fill="#fff"/>
<polygon points="654.6,3678.3 654.6,3678.3 697.6,3653.5 697.6,3678.3" fill="#ff8000"/>
<polygon points="654.6,3678.3 697.6,3653.5 697.6,3703.1" fill="none" stroke="#ff8000" stroke-width="2.2" stroke-linejoin="miter"/>
<text x="757.4" y="3696.9" font-size="54" text-anchor="start">5mg/L</text>
<line x1="1038.4" y1="3678.4" x2="1163.5" y2="3678.4" stroke="#0000ff" stroke-width="3.0"/>
<polygon points="1101,3654.4 1123.8,3671 1115.1,3697.8 1086.8,3697.8 1078.1,3671" fill="#fff"/>
<polygon points="1101,3654.4 1101,3654.4 1123.8,3671 1115.1,3697.8 1101,3697.8" fill="#0000ff"/>
<polygon points="1101,3654.4 1123.8,3671 1115.1,3697.8 1086.8,3697.8 1078.1,3671" fill="none" stroke="#0000ff" stroke-width="2.2" stroke-linejoin="miter"/>
<text x="1174.2" y="3697" font-size="54" text-anchor="start">10mg/L</text>
<line x1="621.6" y1="3760.5" x2="744.9" y2="3760.5" stroke="#ff00ff" stroke-width="3.0"/>
<polygon points="683.2,3733.5 710.3,3760.5 683.2,3787.5 656.2,3760.5" fill="#fff"/>
<polygon points="683.2,3733.5 710.3,3760.5 710.3,3760.5 656.2,3760.5 656.2,3760.5" fill="#ff00ff"/>
<polygon points="683.2,3733.5 710.3,3760.5 683.2,3787.5 656.2,3760.5" fill="none" stroke="#ff00ff" stroke-width="2.2" stroke-linejoin="miter"/>
<text x="757.3" y="3779.1" font-size="54" text-anchor="start">20mg/L</text>
<line x1="1025" y1="3760.8" x2="1148.5" y2="3760.8" stroke="#008000" stroke-width="3.0"/>
<polygon points="1086.8,3731.6 1112,3775.4 1061.5,3775.4" fill="#fff"/>
<polygon points="1069.9,3760.8 1086.8,3731.6 1103.6,3760.8" fill="#008000"/>
<polygon points="1086.8,3731.6 1112,3775.4 1061.5,3775.4" fill="none" stroke="#008000" stroke-width="2.2" stroke-linejoin="miter"/>
<text x="1161.4" y="3779.4" font-size="54" text-anchor="start">30mg/L</text>
<line x1="634.5" y1="3842.3" x2="759.6" y2="3842.3" stroke="#ff0080" stroke-width="3.0"/>
<circle cx="697" cy="3842.3" r="21.2" fill="#fff"/>
<path d="M675.8,3842.3 A21.2,21.2 0 0 1 718.3,3842.3 Z" fill="#ff0080"/>
<circle cx="697" cy="3842.3" r="21.2" fill="none" stroke="#ff0080" stroke-width="2.2"/>
<text x="770.3" y="3860.9" font-size="54" text-anchor="start">50mg/L</text>
<line x1="1030" y1="3841.9" x2="1153.5" y2="3841.9" stroke="#000000" stroke-width="3.0"/>
<polygon points="1072.5,3822.7 1111,3822.7 1111,3861.2 1072.5,3861.2" fill="#fff"/>
<polygon points="1072.5,3841.9 1072.5,3822.7 1111,3822.7 1111,3841.9" fill="#000000"/>
<polygon points="1072.5,3822.7 1111,3822.7 1111,3861.2 1072.5,3861.2" fill="none" stroke="#000000" stroke-width="2.2" stroke-linejoin="miter"/>
<text x="1165.9" y="3860.5" font-size="54" text-anchor="start">100mg/L</text>
</svg></body></html>
